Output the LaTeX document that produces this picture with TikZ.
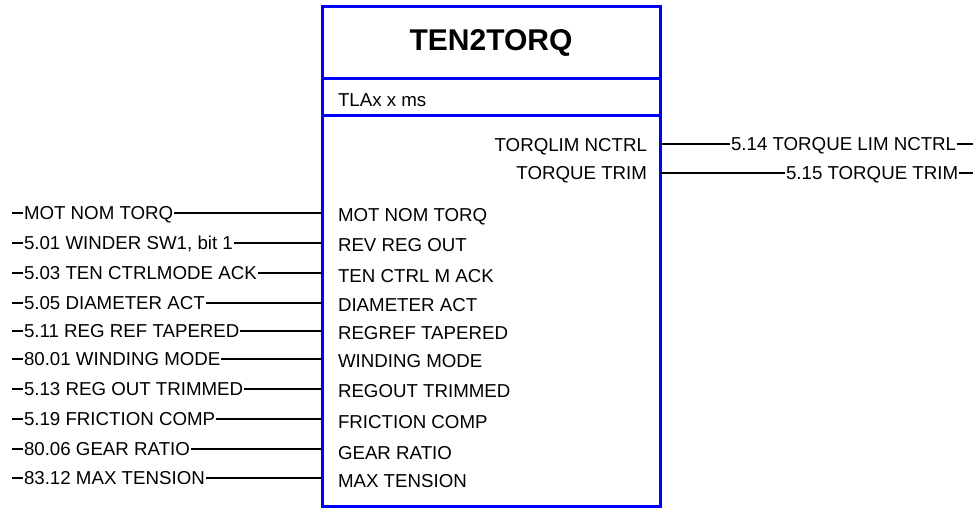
\documentclass[tikz,border=0pt]{standalone}
\usepackage{fontspec}
\setmainfont{Liberation Sans}
\begin{document}
\begin{tikzpicture}[x=1pt,y=-1pt,
  lbl/.style={font=\fontsize{18.7}{20}\selectfont, inner sep=0.8pt, text height=13.4pt, text depth=0pt},
  wire/.style={line width=1.6pt},
  frame/.style={draw=blue, line width=3pt}]
\useasboundingbox (0,0) rectangle (980,508);
\coordinate (tl) at (322,7);
\coordinate (br) at (660,506);
\coordinate (ls) at (12,0);
\coordinate (rs) at (973,0);
\draw[frame] (tl) rectangle (br);
\draw[frame] (tl |- 0,79) -- (br |- 0,79);
\draw[frame] (tl |- 0,116) -- (br |- 0,116);
\node[font=\fontsize{30}{32}\selectfont\bfseries] (title) at (491,43) {TEN2TORQ};
\node[lbl, anchor=west] (cyc) at (337,100) {TLAx x ms};
% outputs
\node[lbl, anchor=east] (o1) at (648,145) {TORQLIM NCTRL};
\node[lbl, anchor=east] (o2) at (648,173) {TORQUE TRIM};
\node[lbl, anchor=west] (x1) at (730,144) {5.14 TORQUE LIM NCTRL};
\node[lbl, anchor=west] (x2) at (785,173) {5.15 TORQUE TRIM};
\foreach \k in {1,2}{
  \draw[wire] (br |- x\k.west) -- (x\k.west);
  \draw[wire] (x\k.east) -- (x\k.east -| rs);
}
% inputs
\foreach \i/\y/\ly/\ext/\pin in {
  1/213/215/{MOT NOM TORQ}/{MOT NOM TORQ},
  2/243/245/{5.01 WINDER SW1, bit 1}/{REV REG OUT},
  3/273/276/{5.03 TEN CTRLMODE ACK}/{TEN CTRL M ACK},
  4/303/305/{5.05 DIAMETER ACT}/{DIAMETER ACT},
  5/331/333/{5.11 REG REF TAPERED}/{REGREF TAPERED},
  6/359/361/{80.01 WINDING MODE}/{WINDING MODE},
  7/389/391/{5.13 REG OUT TRIMMED}/{REGOUT TRIMMED},
  8/419/422/{5.19 FRICTION COMP}/{FRICTION COMP},
  9/449/453/{80.06 GEAR RATIO}/{GEAR RATIO},
  10/478/481/{83.12 MAX TENSION}/{MAX TENSION}}{
  \node[lbl, anchor=west] (p\i) at (337,\ly) {\pin};
  \node[lbl, anchor=west] (s\i) at (23,\y) {\ext};
  \draw[wire] (s\i.west) -- (s\i.west -| ls);
  \draw[wire] (s\i.east) -- (s\i.east -| tl);
}
\end{tikzpicture}
\end{document}
